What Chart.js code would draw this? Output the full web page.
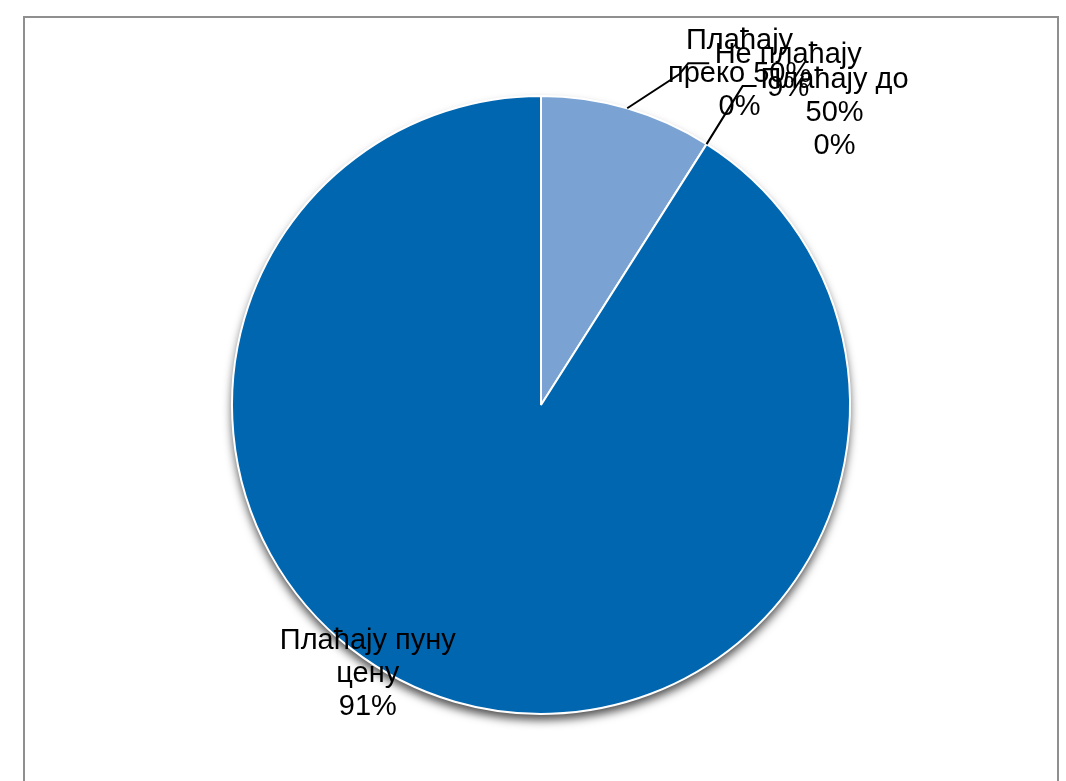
<!DOCTYPE html>
<html><head><meta charset="utf-8">
<script src="https://cdn.jsdelivr.net/npm/chart.js@4/dist/chart.umd.min.js"></script>
<style>
html,body{margin:0;padding:0;background:#fff;overflow:hidden;}
#frame{position:absolute;left:23px;top:16px;width:1032px;height:800px;border:2px solid #8f8f8f;border-bottom:none;}
#wrap{position:absolute;left:0;top:0;width:1066px;height:781px;}
</style></head>
<body>
<div id="frame"></div>
<div id="wrap"><canvas id="c" width="1066" height="781"></canvas></div>
<script>
const categories = ["Не плаћају", "Плаћају до 50%", "Плаћају преко 50%", "Плаћају пуну цену"];
const values = [9, 0, 0, 91];
const valueLabels = ["9%", "0%", "0%", "91%"];
const labelLines = [["Не плаћају", "9%"], ["Плаћају до", "50%", "0%"], ["Плаћају", "преко 50%", "0%"], ["Плаћају пуну", "цену", "91%"]];
const colors = ["#7AA3D3", "#0066B0", "#3A7CC0", "#0066B0"];

// label placement (offset from the arc's outer mid-point) and leader lines
const labelOffsets = [[161, -37], [128, -31], [33, -70], [-87, -28]];
const leaderPts = [[[52, -34], [61, -45], [82, -45]], [[36, -58], [50, -58]], null, null];

const shadowPlugin = {
  id: 'shadow',
  beforeDatasetsDraw(chart) {
    const arc = chart.getDatasetMeta(0).data[0];
    const ctx = chart.ctx;
    ctx.save();
    ctx.beginPath();
    ctx.arc(arc.x, arc.y, arc.outerRadius, 0, Math.PI * 2);
    ctx.shadowColor = 'rgba(0,0,0,0.7)';
    ctx.shadowBlur = 10;
    ctx.shadowOffsetY = 6;
    ctx.fillStyle = '#ffffff';
    ctx.fill();
    ctx.restore();
  }
};

const labelPlugin = {
  id: 'sliceLabels',
  afterDatasetsDraw(chart) {
    const ctx = chart.ctx;
    const meta = chart.getDatasetMeta(0);
    ctx.save();
    ctx.font = '29px "Liberation Sans", Arial, sans-serif';
    ctx.fillStyle = '#000';
    ctx.textAlign = 'center';
    ctx.textBaseline = 'middle';
    meta.data.forEach((arc, i) => {
      const mid = (arc.startAngle + arc.endAngle) / 2;
      const ox = arc.x + Math.cos(mid) * arc.outerRadius;
      const oy = arc.y + Math.sin(mid) * arc.outerRadius;
      const pts = leaderPts[i];
      if (pts) {
        ctx.strokeStyle = '#000';
        ctx.lineWidth = 2;
        ctx.beginPath();
        ctx.moveTo(ox, oy);
        pts.forEach(p => ctx.lineTo(ox + p[0], oy + p[1]));
        ctx.stroke();
      }
    });
    meta.data.forEach((arc, i) => {
      const mid = (arc.startAngle + arc.endAngle) / 2;
      const ox = arc.x + Math.cos(mid) * arc.outerRadius;
      const oy = arc.y + Math.sin(mid) * arc.outerRadius;
      const lines = labelLines[i];
      const lh = 33;
      const cx = ox + labelOffsets[i][0];
      const cy = oy + labelOffsets[i][1];
      const top = cy - (lines.length - 1) * lh / 2;
      lines.forEach((t, k) => ctx.fillText(t, cx, top + k * lh));
    });
    ctx.restore();
  }
};

new Chart(document.getElementById('c'), {
  type: 'pie',
  data: {
    labels: categories,
    datasets: [{
      data: values,
      backgroundColor: colors,
      borderColor: '#ffffff',
      borderWidth: 2,
      hoverOffset: 0
    }]
  },
  options: {
    responsive: false,
    animation: false,
    events: [],
    layout: { padding: { left: 231, right: 215, top: 95, bottom: 66 } },
    plugins: { legend: { display: false }, tooltip: { enabled: false } }
  },
  plugins: [shadowPlugin, labelPlugin]
});
</script>
</body></html>
